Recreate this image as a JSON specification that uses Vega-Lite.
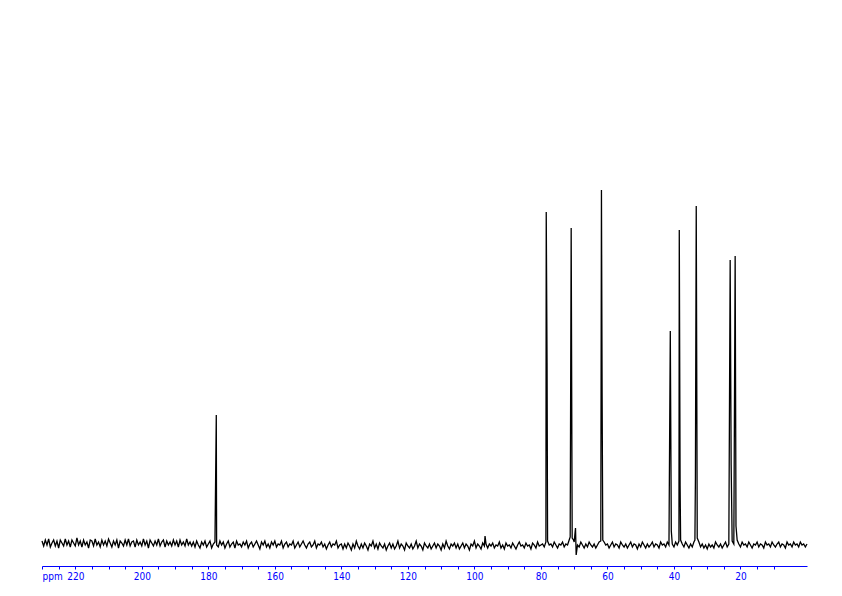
{
  "$schema": "https://vega.github.io/schema/vega-lite/v6.json",
  "width": 765,
  "height": 556,
  "autosize": {"type": "none"},
  "padding": {"left": 42, "top": 10, "right": 35, "bottom": 30},
  "background": "white",
  "config": {"view": {"stroke": null}},
  "data": {"values": [
{"p":230,"i":2},{"p":229.5,"i":-3},{"p":229,"i":3},{"p":228.5,"i":-2},{"p":228,"i":4},{"p":227.5,"i":-4},{"p":227,"i":0},{"p":226.5,"i":3},{"p":226,"i":-3},{"p":225.5,"i":2},
{"p":225,"i":-5},{"p":224.5,"i":3},{"p":224,"i":0},{"p":223.5,"i":-3},{"p":223,"i":4},{"p":222.5,"i":-2},{"p":222,"i":2},{"p":221.5,"i":-4},{"p":221,"i":3},{"p":220.5,"i":0},
{"p":220,"i":-3},{"p":219.5,"i":5},{"p":219,"i":-2},{"p":218.5,"i":2},{"p":218,"i":-4},{"p":217.5,"i":3},{"p":217,"i":-2},{"p":216.5,"i":1},{"p":216,"i":-5},{"p":215.5,"i":3},
{"p":215,"i":2},{"p":214.5,"i":-3},{"p":214,"i":4},{"p":213.5,"i":-2},{"p":213,"i":1},{"p":212.5,"i":-4},{"p":212,"i":3},{"p":211.5,"i":-2},{"p":211,"i":2},{"p":210.5,"i":-3},
{"p":210,"i":4},{"p":209.5,"i":0},{"p":209,"i":-4},{"p":208.5,"i":2},{"p":208,"i":-2},{"p":207.5,"i":3},{"p":207,"i":-5},{"p":206.5,"i":2},{"p":206,"i":0},{"p":205.5,"i":-3},
{"p":205,"i":3},{"p":204.5,"i":-2},{"p":204,"i":4},{"p":203.5,"i":-3},{"p":203,"i":1},{"p":202.5,"i":2},{"p":202,"i":-4},{"p":201.5,"i":3},{"p":201,"i":-2},{"p":200.5,"i":1},
{"p":200,"i":-3},{"p":199.5,"i":4},{"p":199,"i":-2},{"p":198.5,"i":2},{"p":198,"i":-5},{"p":197.5,"i":3},{"p":197,"i":0},{"p":196.5,"i":-3},{"p":196,"i":2},{"p":195.5,"i":-2},
{"p":195,"i":4},{"p":194.5,"i":-3},{"p":194,"i":1},{"p":193.5,"i":3},{"p":193,"i":-4},{"p":192.5,"i":2},{"p":192,"i":-2},{"p":191.5,"i":1},{"p":191,"i":-3},{"p":190.5,"i":3},
{"p":190,"i":-2},{"p":189.5,"i":2},{"p":189,"i":-4},{"p":188.5,"i":3},{"p":188,"i":-2},{"p":187.5,"i":1},{"p":187,"i":-3},{"p":186.5,"i":4},{"p":186,"i":-2},{"p":185.5,"i":1},
{"p":185,"i":-3},{"p":184.5,"i":1},{"p":184,"i":-4},{"p":183.5,"i":2},{"p":183,"i":-2},{"p":182.5,"i":-5},{"p":182,"i":1},{"p":181.5,"i":-2},{"p":181,"i":2},{"p":180.5,"i":-4},
{"p":180,"i":-1},{"p":179.5,"i":2},{"p":179,"i":-5},{"p":178.5,"i":-1},{"p":178,"i":1},{"p":177.6,"i":128},{"p":177.5,"i":-2},{"p":177,"i":-4},{"p":176.5,"i":2},{"p":176,"i":-2},
{"p":175.5,"i":1},{"p":175,"i":-5},{"p":174.5,"i":-1},{"p":174,"i":2},{"p":173.5,"i":-4},{"p":173,"i":-1},{"p":172.5,"i":1},{"p":172,"i":-5},{"p":171.5,"i":2},{"p":171,"i":-2},
{"p":170.5,"i":-1},{"p":170,"i":-4},{"p":169.5,"i":1},{"p":169,"i":-2},{"p":168.5,"i":2},{"p":168,"i":-5},{"p":167.5,"i":-1},{"p":167,"i":1},{"p":166.5,"i":-4},{"p":166,"i":-1},
{"p":165.5,"i":2},{"p":165,"i":-2},{"p":164.5,"i":-6},{"p":164,"i":1},{"p":163.5,"i":-2},{"p":163,"i":2},{"p":162.5,"i":-4},{"p":162,"i":-1},{"p":161.5,"i":-5},{"p":161,"i":1},
{"p":160.5,"i":-2},{"p":160,"i":2},{"p":159.5,"i":-4},{"p":159,"i":-1},{"p":158.5,"i":-2},{"p":158,"i":2},{"p":157.5,"i":-5},{"p":157,"i":-1},{"p":156.5,"i":1},{"p":156,"i":-4},
{"p":155.5,"i":-1},{"p":155,"i":-2},{"p":154.5,"i":2},{"p":154,"i":-5},{"p":153.5,"i":-2},{"p":153,"i":1},{"p":152.5,"i":-4},{"p":152,"i":-1},{"p":151.5,"i":2},{"p":151,"i":-2},
{"p":150.5,"i":-5},{"p":150,"i":-1},{"p":149.5,"i":1},{"p":149,"i":-4},{"p":148.5,"i":-2},{"p":148,"i":2},{"p":147.5,"i":-5},{"p":147,"i":-1},{"p":146.5,"i":-2},{"p":146,"i":1},
{"p":145.5,"i":-4},{"p":145,"i":-1},{"p":144.5,"i":-6},{"p":144,"i":-2},{"p":143.5,"i":1},{"p":143,"i":-4},{"p":142.5,"i":-1},{"p":142,"i":-2},{"p":141.5,"i":2},{"p":141,"i":-5},
{"p":140.5,"i":-2},{"p":140,"i":-1},{"p":139.5,"i":-6},{"p":139,"i":-1},{"p":138.5,"i":-5},{"p":138,"i":0},{"p":137.5,"i":-3},{"p":137,"i":-7},{"p":136.5,"i":-1},{"p":136,"i":-5},
{"p":135.5,"i":2},{"p":135,"i":-3},{"p":134.5,"i":-6},{"p":134,"i":-1},{"p":133.5,"i":-5},{"p":133,"i":0},{"p":132.5,"i":-3},{"p":132,"i":-7},{"p":131.5,"i":-1},{"p":131,"i":-3},
{"p":130.5,"i":2},{"p":130,"i":-5},{"p":129.5,"i":-1},{"p":129,"i":-6},{"p":128.5,"i":0},{"p":128,"i":-3},{"p":127.5,"i":-5},{"p":127,"i":-1},{"p":126.5,"i":-7},{"p":126,"i":-3},
{"p":125.5,"i":0},{"p":125,"i":-5},{"p":124.5,"i":-1},{"p":124,"i":-6},{"p":123.5,"i":-3},{"p":123,"i":2},{"p":122.5,"i":-5},{"p":122,"i":-1},{"p":121.5,"i":-3},{"p":121,"i":-7},
{"p":120.5,"i":0},{"p":120,"i":-3},{"p":119.5,"i":-5},{"p":119,"i":-1},{"p":118.5,"i":-6},{"p":118,"i":-3},{"p":117.5,"i":2},{"p":117,"i":-5},{"p":116.5,"i":-1},{"p":116,"i":-3},
{"p":115.5,"i":-7},{"p":115,"i":0},{"p":114.5,"i":-3},{"p":114,"i":-5},{"p":113.5,"i":-1},{"p":113,"i":-6},{"p":112.5,"i":-3},{"p":112,"i":0},{"p":111.5,"i":-5},{"p":111,"i":-1},
{"p":110.5,"i":-3},{"p":110,"i":-7},{"p":109.5,"i":-1},{"p":109,"i":-5},{"p":108.5,"i":2},{"p":108,"i":-3},{"p":107.5,"i":-6},{"p":107,"i":-1},{"p":106.5,"i":-3},{"p":106,"i":0},
{"p":105.5,"i":-5},{"p":105,"i":-1},{"p":104.5,"i":-6},{"p":104,"i":-3},{"p":103.5,"i":0},{"p":103,"i":-5},{"p":102.5,"i":-1},{"p":102,"i":-3},{"p":101.5,"i":-7},{"p":101,"i":-1},
{"p":100.5,"i":-3},{"p":100,"i":2},{"p":99.5,"i":-5},{"p":99,"i":-1},{"p":98.5,"i":-3},{"p":98,"i":-6},{"p":97.5,"i":0},{"p":97,"i":-3},{"p":96.8,"i":7},{"p":96.5,"i":-1},
{"p":96,"i":-5},{"p":95.5,"i":-1},{"p":95,"i":-3},{"p":94.5,"i":0},{"p":94,"i":-5},{"p":93.5,"i":-2},{"p":93,"i":-3},{"p":92.5,"i":1},{"p":92,"i":-5},{"p":91.5,"i":-2},
{"p":91,"i":-6},{"p":90.5,"i":0},{"p":90,"i":-3},{"p":89.5,"i":-2},{"p":89,"i":-5},{"p":88.5,"i":0},{"p":88,"i":-3},{"p":87.5,"i":-6},{"p":87,"i":-2},{"p":86.5,"i":1},
{"p":86,"i":-3},{"p":85.5,"i":-2},{"p":85,"i":-5},{"p":84.5,"i":0},{"p":84,"i":-3},{"p":83.5,"i":-2},{"p":83,"i":-6},{"p":82.5,"i":0},{"p":82,"i":-2},{"p":81.5,"i":-5},
{"p":81,"i":1},{"p":80.5,"i":-3},{"p":80,"i":-2},{"p":79.5,"i":-1},{"p":79,"i":-4},{"p":78.5,"i":1},{"p":78.4,"i":331},{"p":78.15,"i":180},{"p":78,"i":2},{"p":77.5,"i":-2},
{"p":77,"i":-1},{"p":76.5,"i":-4},{"p":76,"i":1},{"p":75.5,"i":-2},{"p":75,"i":-5},{"p":74.5,"i":-1},{"p":74,"i":-2},{"p":73.5,"i":1},{"p":73,"i":-4},{"p":72.5,"i":-1},
{"p":72,"i":-2},{"p":71.5,"i":3},{"p":71.2,"i":6},{"p":70.9,"i":315},{"p":70.6,"i":5},{"p":70.2,"i":3},{"p":70,"i":1},{"p":69.6,"i":15},{"p":69.4,"i":-12},{"p":69,"i":-2},
{"p":68.5,"i":-4},{"p":68,"i":1},{"p":67.5,"i":-2},{"p":67,"i":-5},{"p":66.5,"i":-1},{"p":66,"i":-4},{"p":65.5,"i":1},{"p":65,"i":-2},{"p":64.5,"i":-4},{"p":64,"i":-1},
{"p":63.5,"i":-5},{"p":63,"i":-2},{"p":62.5,"i":1},{"p":62,"i":2},{"p":61.8,"i":353},{"p":61.6,"i":150},{"p":61.4,"i":3},{"p":61,"i":1},{"p":60.5,"i":-2},{"p":60,"i":-1},
{"p":59.5,"i":-5},{"p":59,"i":-2},{"p":58.5,"i":1},{"p":58,"i":-4},{"p":57.5,"i":-1},{"p":57,"i":-2},{"p":56.5,"i":-5},{"p":56,"i":1},{"p":55.5,"i":-2},{"p":55,"i":-4},
{"p":54.5,"i":-1},{"p":54,"i":-5},{"p":53.5,"i":-2},{"p":53,"i":1},{"p":52.5,"i":-4},{"p":52,"i":-1},{"p":51.5,"i":-2},{"p":51,"i":-6},{"p":50.5,"i":-1},{"p":50,"i":-4},
{"p":49.5,"i":1},{"p":49,"i":-2},{"p":48.5,"i":-5},{"p":48,"i":-1},{"p":47.5,"i":-4},{"p":47,"i":-2},{"p":46.5,"i":1},{"p":46,"i":-4},{"p":45.5,"i":-1},{"p":45,"i":-2},
{"p":44.5,"i":-5},{"p":44,"i":1},{"p":43.5,"i":-2},{"p":43,"i":-1},{"p":42.5,"i":-4},{"p":42,"i":1},{"p":41.5,"i":-2},{"p":41.1,"i":212},{"p":40.8,"i":12},{"p":40.5,"i":-1},
{"p":40,"i":-4},{"p":39.5,"i":1},{"p":39,"i":-2},{"p":38.5,"i":2},{"p":38.4,"i":313},{"p":38.15,"i":57},{"p":38,"i":3},{"p":37.5,"i":-1},{"p":37,"i":-4},{"p":36.5,"i":1},
{"p":36,"i":-2},{"p":35.5,"i":-5},{"p":35,"i":-1},{"p":34.5,"i":-4},{"p":34,"i":1},{"p":33.7,"i":3},{"p":33.55,"i":64},{"p":33.3,"i":337},{"p":33,"i":5},{"p":32.5,"i":1},
{"p":32,"i":-4},{"p":31.5,"i":-1},{"p":31,"i":-5},{"p":30.5,"i":-2},{"p":30,"i":-6},{"p":29.5,"i":-1},{"p":29,"i":-4},{"p":28.5,"i":-2},{"p":28,"i":-5},{"p":27.5,"i":1},
{"p":27,"i":-2},{"p":26.5,"i":-4},{"p":26,"i":-1},{"p":25.5,"i":-5},{"p":25,"i":-2},{"p":24.5,"i":1},{"p":24,"i":-4},{"p":23.5,"i":-1},{"p":23.1,"i":283},{"p":22.8,"i":78},
{"p":22.5,"i":2},{"p":22,"i":-1},{"p":21.6,"i":287},{"p":21.35,"i":17},{"p":21,"i":3},{"p":20.5,"i":-1},{"p":20,"i":-4},{"p":19.5,"i":1},{"p":19,"i":-2},{"p":18.5,"i":-1},
{"p":18,"i":-4},{"p":17.5,"i":1},{"p":17,"i":-2},{"p":16.5,"i":-5},{"p":16,"i":-1},{"p":15.5,"i":-2},{"p":15,"i":1},{"p":14.5,"i":-4},{"p":14,"i":-1},{"p":13.5,"i":-2},
{"p":13,"i":-5},{"p":12.5,"i":1},{"p":12,"i":-2},{"p":11.5,"i":-1},{"p":11,"i":-4},{"p":10.5,"i":1},{"p":10,"i":-2},{"p":9.5,"i":-4},{"p":9,"i":-1},{"p":8.5,"i":1},
{"p":8,"i":-4},{"p":7.5,"i":-1},{"p":7,"i":-2},{"p":6.5,"i":-5},{"p":6,"i":1},{"p":5.5,"i":-2},{"p":5,"i":-1},{"p":4.5,"i":-4},{"p":4,"i":1},{"p":3.5,"i":-2},
{"p":3,"i":-1},{"p":2.5,"i":-4},{"p":2,"i":1},{"p":1.5,"i":-2},{"p":1,"i":-1},{"p":0.5,"i":-4},{"p":0,"i":-1}
  ]},
  "mark": {"type": "line", "color": "black", "strokeWidth": 1.3, "interpolate": "linear"},
  "encoding": {
    "x": {
      "field": "p", "type": "quantitative",
      "scale": {"domain": [0, 230], "reverse": true, "nice": false, "zero": false},
      "axis": {
        "values": [230,225,220,215,210,205,200,195,190,185,180,175,170,165,160,155,150,145,140,135,130,125,120,115,110,105,100,95,90,85,80,75,70,65,60,55,50,45,40,35,30,25,20,15,10],
        "labelExpr": "datum.value % 20 == 0 ? datum.label : ''",
        "grid": false,
        "domainColor": "#0000ff",
        "tickColor": "#0000ff",
        "labelColor": "#0000ff",
        "tickSize": 3,
        "labelPadding": 2,
        "labelFont": "Liberation Sans Narrow, DejaVu Sans Condensed, sans-serif",
        "labelFontSize": 10,
        "labelFlush": false,
        "labelOverlap": false,
        "title": "ppm",
        "titleColor": "#0000ff",
        "titleFont": "Liberation Sans Narrow, DejaVu Sans Condensed, sans-serif",
        "titleFontSize": 10,
        "titleFontWeight": "normal",
        "titleAlign": "left",
        "titleBaseline": "top",
        "titleAnchor": "start",
        "titleX": 0,
        "titleY": 5
      }
    },
    "y": {
      "field": "i", "type": "quantitative",
      "scale": {"domain": [-23, 533], "nice": false, "zero": false},
      "axis": null
    }
  }
}
